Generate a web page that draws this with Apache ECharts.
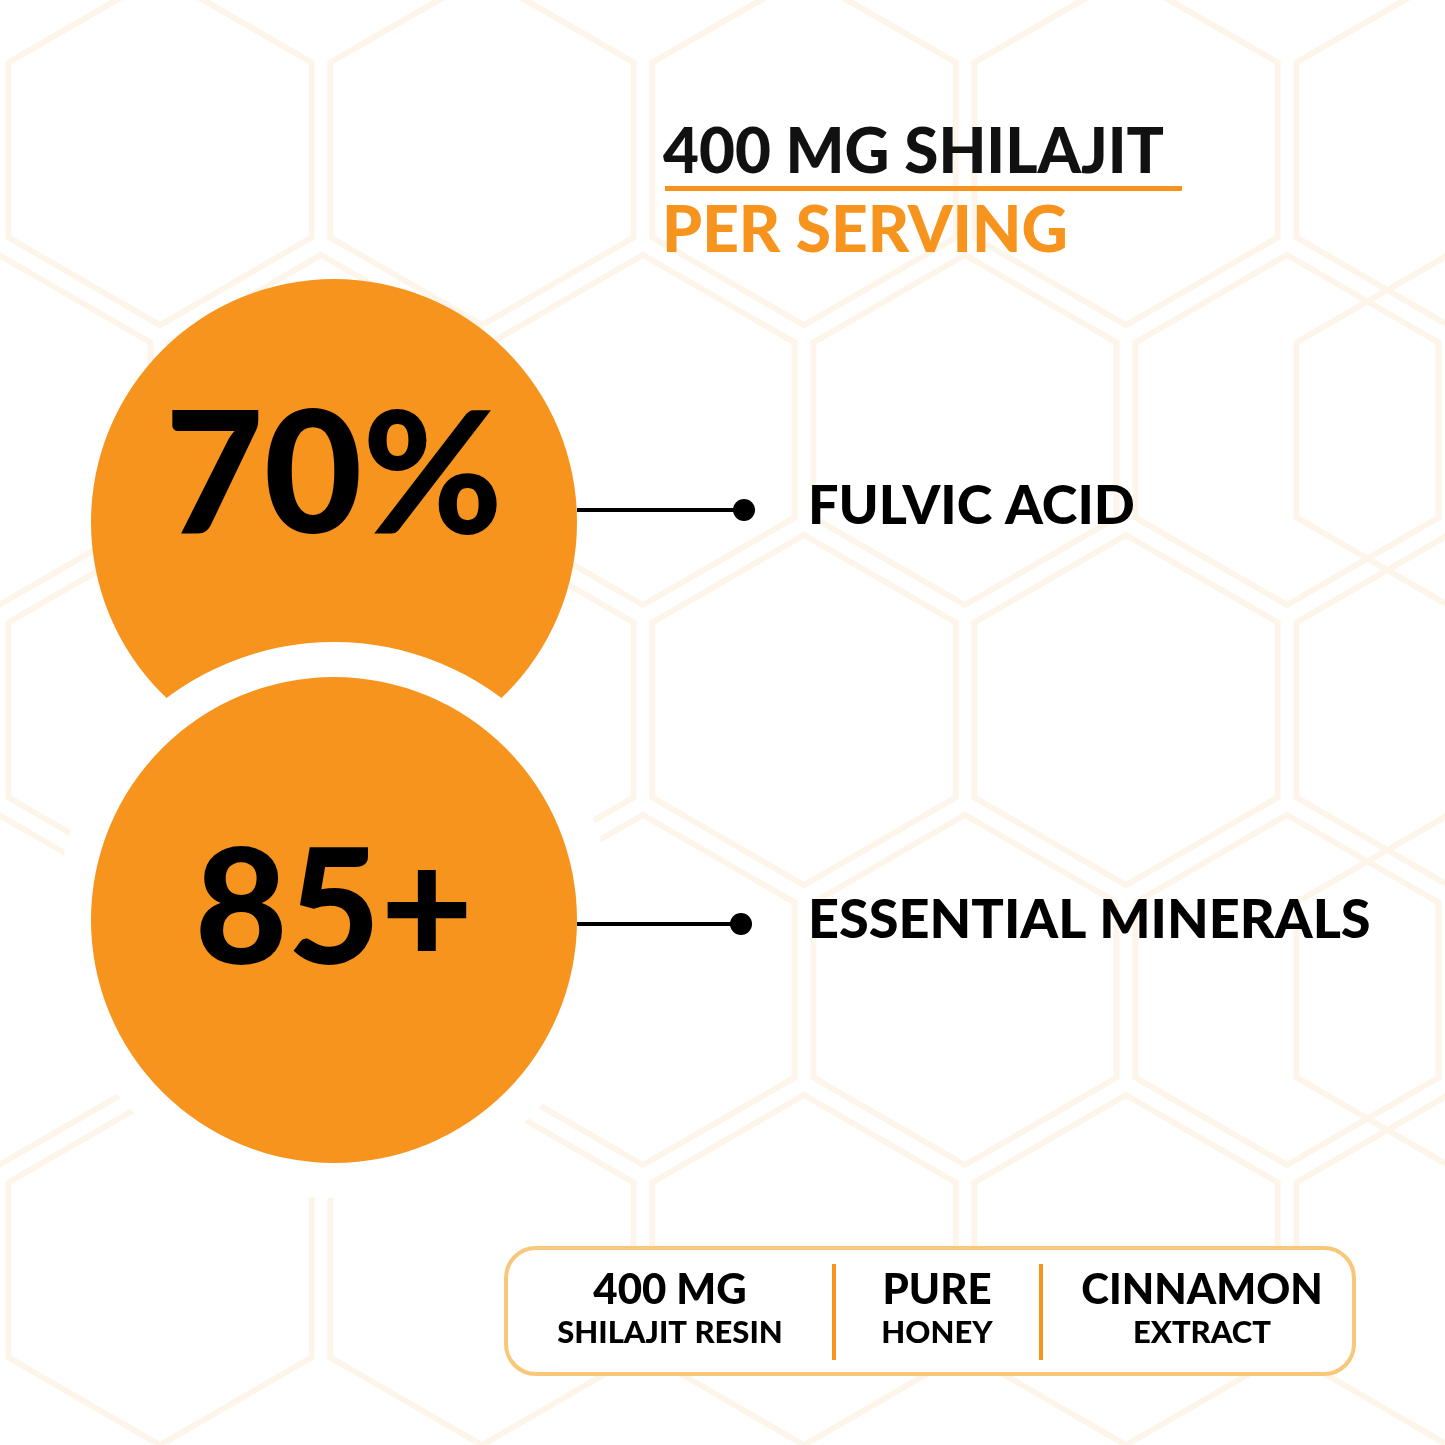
<!DOCTYPE html>
<html><head><meta charset="utf-8">
<script src="https://cdn.jsdelivr.net/npm/echarts@6/dist/echarts.min.js"></script>
<style>html,body{margin:0;padding:0;background:#fff}#main{width:1445px;height:1445px}</style>
</head><body><div id="main"></div>
<script>
var titleLines = ['400 MG SHILAJIT', 'PER SERVING'];
var statValues = ['70%', '85+'];
var statLabels = ['FULVIC ACID', 'ESSENTIAL MINERALS'];
var boxTop = ['400 MG', 'PURE', 'CINNAMON'];
var boxBottom = ['SHILAJIT RESIN', 'HONEY', 'EXTRACT'];

var orange = '#f7941d';
var font = 'Lato';
var chart = echarts.init(document.getElementById('main'));
var g = [];

// faint honeycomb background
function hex(cx, cy, r) {
  var pts = [];
  for (var i = 0; i < 6; i++) {
    var a = Math.PI / 180 * (60 * i - 90);
    pts.push([cx + r * Math.cos(a), cy + r * Math.sin(a)]);
  }
  return {type: 'polygon', shape: {points: pts}, style: {fill: 'none', stroke: '#fef5ea', lineWidth: 6}, z: 0};
}
var cols = [160, 482, 804, 1126, 1448];
var rowsY = [150, 430, 710, 990, 1270];
rowsY.forEach(function (y, ri) {
  cols.forEach(function (x) {
    g.push(hex(ri % 2 ? x - 161 : x, y, 175));
  });
  if (ri % 2) g.push(hex(1448, y, 175));
});

// title
g.push({type: 'text', left: 663, top: 122, style: {text: titleLines[0], font: '900 62px ' + font, fill: '#111'}, z: 5});
g.push({type: 'rect', shape: {x: 665, y: 186, width: 517, height: 5}, style: {fill: orange}, z: 5});
g.push({type: 'text', left: 662, top: 199, style: {text: titleLines[1], font: '900 64px ' + font, fill: orange}, z: 5});

// circles
var centers = [[334, 522], [334, 920]];
var lineY = [510, 924];
var dotX = [744, 741];
centers.forEach(function (c, i) {
  g.push({type: 'circle', shape: {cx: c[0], cy: c[1], r: 243}, style: {fill: orange}, z: 11 + i * 2});
  g.push({type: 'text', x: c[0], y: i ? 912 : 478, style: {text: statValues[i], font: '900 ' + (i ? 160 : 170) + 'px ' + font, fill: '#000', align: 'center', verticalAlign: 'middle'}, z: 20});
  g.push({type: 'line', shape: {x1: 577, y1: lineY[i], x2: dotX[i], y2: lineY[i]}, style: {stroke: '#000', lineWidth: 4}, z: 20});
  g.push({type: 'circle', shape: {cx: dotX[i], cy: lineY[i], r: 11}, style: {fill: '#000'}, z: 20});
  g.push({type: 'text', left: 808, y: lineY[i] - 3, style: {text: statLabels[i], font: '900 54px ' + font, fill: '#000', verticalAlign: 'middle'}, z: 5});
});
// white gap between the two circles
g.push({type: 'circle', shape: {cx: 334, cy: 920, r: 278}, style: {fill: '#fff'}, z: 11.5});

// bottom box
g.push({type: 'rect', shape: {x: 506, y: 1248, width: 848, height: 126, r: 30}, style: {fill: '#fff', stroke: '#f8c77a', lineWidth: 4}, z: 5});
[834, 1041].forEach(function (x) {
  g.push({type: 'rect', shape: {x: x - 2, y: 1264, width: 4, height: 96}, style: {fill: orange}, z: 6});
});
var boxX = [670, 937, 1202];
boxX.forEach(function (x, i) {
  g.push({type: 'text', x: x, y: 1290, style: {text: boxTop[i], font: '900 42px ' + font, fill: '#000', align: 'center', verticalAlign: 'middle'}, z: 6});
  g.push({type: 'text', x: x, y: 1333, style: {text: boxBottom[i], font: '900 31px ' + font, fill: '#000', align: 'center', verticalAlign: 'middle'}, z: 6});
});

chart.setOption({backgroundColor: '#fff', animation: false, graphic: {elements: g}});
</script>
</body></html>
